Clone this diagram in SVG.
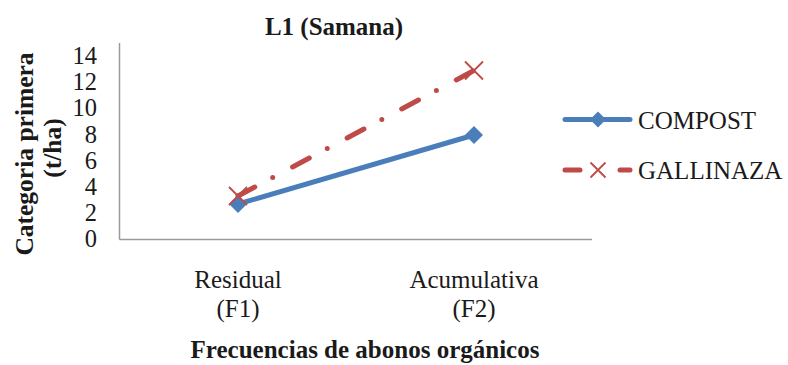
<svg xmlns="http://www.w3.org/2000/svg" width="788" height="365" viewBox="0 0 788 365">
<style>
text{font-family:"Liberation Serif","Times New Roman",serif;fill:#1a1a1a;font-size:25px}
.b{font-weight:bold}
.tick{text-anchor:end;font-size:24.5px}
.mid{text-anchor:middle}
.axis{stroke:#9a9a9a;stroke-width:1.5;fill:none}
.comp{stroke:#4A7EBB;stroke-width:5;fill:none;stroke-linecap:round}
.gall{stroke:#BE4B48;stroke-width:5;fill:none;stroke-linecap:round}
.xm{stroke:#BE4B48;stroke-width:1.8;fill:none}
.dm{fill:#4A7EBB}
</style>
<rect width="788" height="365" fill="#fff"/>
<g id="title"><text class="b mid" x="334" y="35">L1 (Samana)</text></g>
<g id="y-axis">
<path class="axis" d="M119.5 43V239.5"/>
<text class="tick" x="97" y="247">0</text>
<text class="tick" x="97" y="221">2</text>
<text class="tick" x="97" y="195">4</text>
<text class="tick" x="97" y="169">6</text>
<text class="tick" x="97" y="142.5">8</text>
<text class="tick" x="97" y="116">10</text>
<text class="tick" x="97" y="90">12</text>
<text class="tick" x="97" y="64">14</text>
<text class="b mid" style="font-size:25.5px" transform="translate(32.5,154) rotate(-90)">Categoria primera</text>
<text class="b mid" style="font-size:25.5px" transform="translate(60.5,148) rotate(-90)">(t/ha)</text>
</g>
<g id="x-axis">
<path class="axis" d="M119.5 239.5H592"/>
<text class="mid" x="238" y="288">Residual</text>
<text class="mid" x="238" y="317">(F1)</text>
<text class="mid" x="474" y="288">Acumulativa</text>
<text class="mid" x="474" y="317">(F2)</text>
<text class="b mid" x="365" y="358">Frecuencias de abonos orgánicos</text>
</g>
<g id="connectors">
<path class="gall" d="M238 196L474 70.5" stroke-dasharray="19 20.3 0 22.5"/>
<path class="comp" d="M238 204L474 135"/>
</g>
<g id="compost-points">
<path class="dm" d="M238 195l9 9-9 9-9-9z"/>
<path class="dm" d="M474 126l9 9-9 9-9-9z"/>
</g>
<g id="gallinaza-points">
<path class="xm" d="M229 187l18 18M247 187l-18 18"/>
<path class="xm" d="M465 61.5l18 18M483 61.5l-18 18"/>
</g>
<g id="legend">
<g id="legend-compost">
<path class="comp" d="M565 119.5H630"/>
<path class="dm" d="M598 111.5l8 8-8 8-8-8z"/>
<text x="638" y="129">COMPOST</text>
</g>
<g id="legend-gallinaza">
<path class="gall" d="M565 170H580M620 170H630"/>
<path class="xm" d="M590.5 162.5l15 15M605.5 162.5l-15 15"/>
<text x="638" y="179">GALLINAZA</text>
</g>
</g>
</svg>
